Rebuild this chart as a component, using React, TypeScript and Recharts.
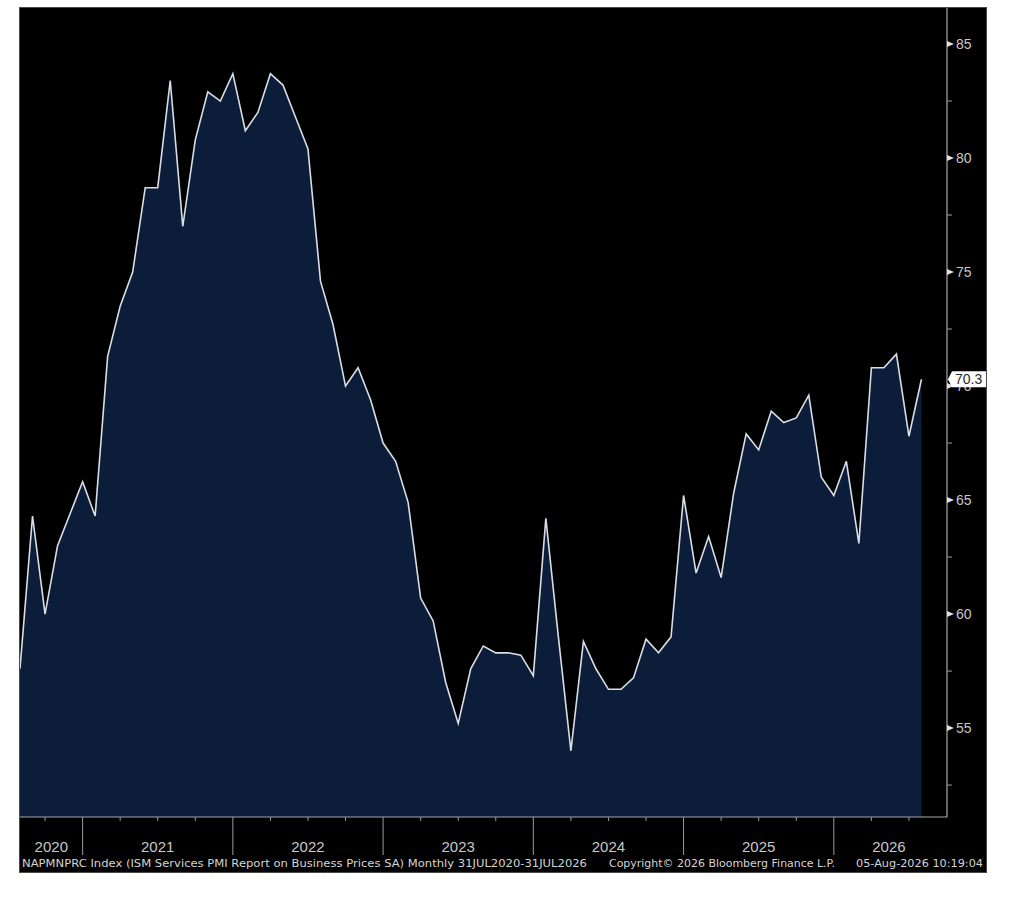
import React from 'react';
import { ComposedChart, Area, XAxis, YAxis } from 'recharts';

// ISM services prices paid, monthly Jul 2020 .. Jul 2026
const values = [
  57.6, 64.3, 60.0, 63.0, 64.4, 65.8, 64.3, 71.3, 73.5, 75.0,
  78.7, 78.7, 83.4, 77.0, 80.8, 82.9, 82.5, 83.7, 81.2, 82.0,
  83.7, 83.2, 81.8, 80.4, 74.6, 72.7, 70.0, 70.8, 69.4, 67.5,
  66.7, 64.9, 60.7, 59.7, 57.0, 55.2, 57.6, 58.6, 58.3, 58.3,
  58.2, 57.3, 64.2, 59.0, 54.0, 58.8, 57.6, 56.7, 56.7, 57.2,
  58.9, 58.3, 59.0, 65.2, 61.8, 63.4, 61.6, 65.3, 67.9, 67.2,
  68.9, 68.4, 68.6, 69.6, 66.0, 65.2, 66.7, 63.1, 70.8, 70.8,
  71.4, 67.8, 70.3,
];

const years = ['2020', '2021', '2022', '2023', '2024', '2025', '2026'];
const yearLabelPos = [2.5, 11, 23, 35, 47, 59, 69.4];
const quarterTicks = [2, 5, 8, 11, 14, 17, 20, 23, 26, 29, 32, 35, 38, 41, 44, 47, 50, 53, 56, 59, 62, 65, 68, 71];
const yearDividers = [5, 17, 29, 41, 53, 65];
const majorTicks = [55, 60, 65, 70, 75, 80, 85];
const minorTicks = [52.5, 57.5, 62.5, 67.5, 72.5, 77.5, 82.5];

const footerLeft = 'NAPMNPRC Index (ISM Services PMI Report on Business Prices SA) Monthly 31JUL2020-31JUL2026';
const footerMid = 'Copyright\u00a9 2026 Bloomberg Finance L.P.';
const footerRight = '05-Aug-2026 10:19:04';

const data = values.map((v, i) => ({ i, v }));
const last = values[values.length - 1];

const FONT = '"DejaVu Sans", Verdana, sans-serif';
const LABEL_FONT = '"Liberation Sans", Arial, sans-serif';

function QuarterTick({ x, y, payload }: any) {
  const long = yearDividers.includes(payload.value);
  return <line x1={x} y1={y} x2={x} y2={y + (long ? 38 : 4)} stroke="#9a9a9a" strokeWidth={1} />;
}

function YearTick({ x, y, payload }: any) {
  const idx = yearLabelPos.indexOf(payload.value);
  return (
    <text x={x} y={y + 15} textAnchor="middle" fill="#c8c8c8" fontSize={15} fontFamily={LABEL_FONT}>
      {years[idx]}
    </text>
  );
}

function PriceTick({ x, y, payload }: any) {
  const v = payload.value;
  if (v === last) {
    return (
      <g>
        <path d={`M${x + 1},${y} L${x + 5},${y - 8} L${x + 39},${y - 8} L${x + 39},${y + 8} L${x + 5},${y + 8} Z`} fill="#ffffff" />
        <text x={x + 8} y={y + 5} fill="#2a2a2a" fontSize={14} fontFamily={LABEL_FONT}>{v.toFixed(1)}</text>
      </g>
    );
  }
  if (majorTicks.includes(v)) {
    return (
      <g>
        <path d={`M${x},${y - 3} L${x + 7},${y} L${x},${y + 3} Z`} fill="#e0e0e0" />
        <text x={x + 9} y={y + 5} fill="#c8c8c8" fontSize={14} fontFamily={LABEL_FONT}>{v}</text>
      </g>
    );
  }
  return <line x1={x} y1={y} x2={x + 5} y2={y} stroke="#9a9a9a" />;
}

export default function App() {
  return (
    <div style={{ position: 'absolute', left: 20, top: 8, width: 966, height: 864, background: '#000', outline: '1px solid #4a4a4a' }}>
      <ComposedChart width={966} height={864} data={data} margin={{ top: 0, right: 0, bottom: 0, left: 0 }}>
        <XAxis
          dataKey="i"
          type="number"
          domain={[0, 74.04]}
          allowDataOverflow
          ticks={quarterTicks}
          interval={0}
          height={20}
          tickSize={0}
          tickMargin={0}
          tickLine={false}
          axisLine={{ stroke: '#a8a8a8' }}
          tick={<QuarterTick />}
        />
        <XAxis
          xAxisId="yr"
          dataKey="i"
          type="number"
          domain={[0, 74.04]}
          allowDataOverflow
          ticks={yearLabelPos}
          interval={0}
          height={35}
          tickSize={0}
          tickMargin={0}
          tickLine={false}
          axisLine={false}
          tick={<YearTick />}
        />
        <YAxis
          orientation="right"
          width={39}
          domain={[51.1, 86.58]}
          allowDataOverflow
          ticks={[...minorTicks, ...majorTicks, last]}
          interval={0}
          tickSize={0}
          tickMargin={0}
          tickLine={false}
          axisLine={{ stroke: '#c8c8c8' }}
          tick={<PriceTick />}
        />
        <Area
          type="linear"
          dataKey="v"
          stroke="#d8dee6"
          strokeWidth={1.6}
          fill="#0c1d3a"
          fillOpacity={1}
          dot={false}
          activeDot={false}
          isAnimationActive={false}
        />
      </ComposedChart>
      <svg width={966} height={864} style={{ position: 'absolute', left: 0, top: 0, pointerEvents: 'none' }}>
        <g fill="#d4d4d4" fontSize={10.5} fontFamily={FONT}>
          <text x={2} y={859} textLength={565} lengthAdjust="spacingAndGlyphs">{footerLeft}</text>
          <text x={589} y={859} textLength={226} lengthAdjust="spacingAndGlyphs">{footerMid}</text>
          <text x={836} y={859} textLength={127} lengthAdjust="spacingAndGlyphs">{footerRight}</text>
        </g>
      </svg>
    </div>
  );
}
